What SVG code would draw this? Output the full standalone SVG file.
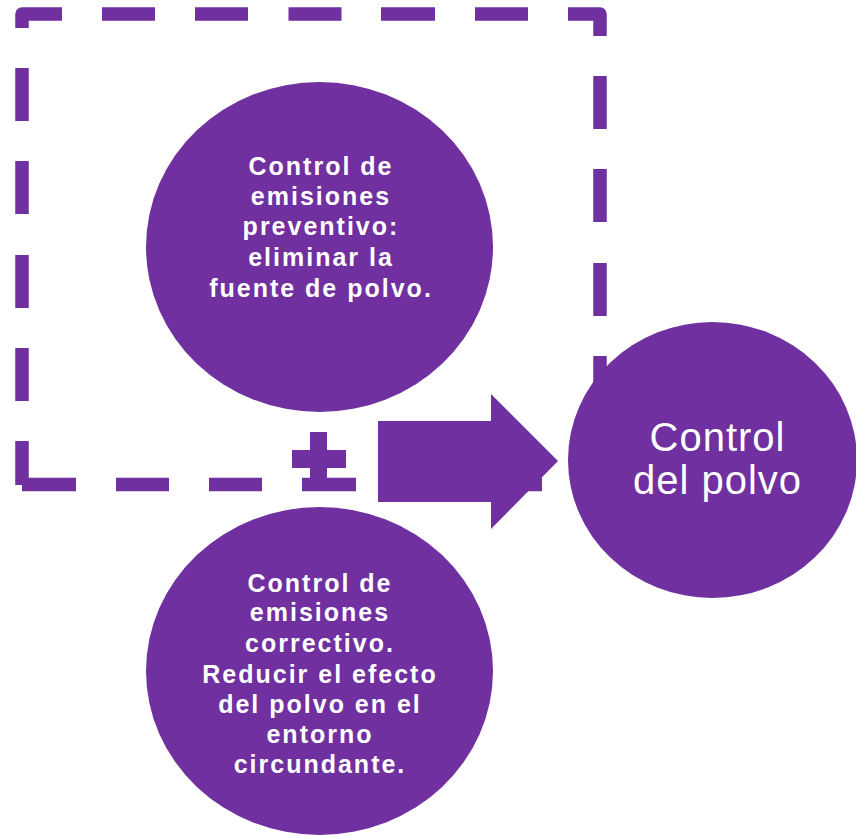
<svg xmlns="http://www.w3.org/2000/svg" width="856" height="836" viewBox="0 0 856 836">
  <style>
    .dash { fill: none; stroke: #7030A0; stroke-width: 13.5; stroke-linecap: butt; stroke-linejoin: round; }
    .shape { fill: #7030A0; }
    .small { font-family: "Liberation Sans", Arial, sans-serif; font-weight: bold; font-size: 25px; fill: #FFFFFF; text-anchor: middle; letter-spacing: 2px; }
    .big { font-family: "Liberation Sans", Arial, sans-serif; font-size: 40px; fill: #FFFFFF; text-anchor: middle; letter-spacing: 1px; }
  </style>
  <rect width="856" height="836" fill="#FFFFFF"/>
  <g id="connectors">
    <g id="dashed-frame">
      <path class="dash" d="M22,28 L22,14 L62,14"/>
      <path class="dash" d="M102,14 H155 M195,14 H248 M288.5,14 H341.5 M381,14 H435 M475,14 H528"/>
      <path class="dash" d="M568,14 L600,14 L600,36"/>
      <path class="dash" d="M600,76 V129 M600,169 V222 M600,263 V316 M600,356 V409"/>
      <path class="dash" d="M22,68 V121 M22,161 V214 M22,255 V308 M22,348 V401 M22,441 V485"/>
      <path class="dash" d="M22,484.5 H76 M116,484.5 H169 M209,484.5 H262 M302,484.5 H356 M395,484.5 H449 M489,484.5 H542"/>
    </g>
    <path id="plus" class="shape" d="M310,432 H327 V450 H346 V468 H327 V480 H310 V468 H292 V450 H310 Z"/>
    <path id="arrow" class="shape" d="M378,421 H491 V394 L558,461 L491,529 V502 H378 Z"/>
  </g>
  <g id="node-preventivo">
    <ellipse class="shape" cx="319.5" cy="247" rx="173.5" ry="165"/>
    <text class="small" x="321" y="175">Control de</text>
    <text class="small" x="321" y="205">emisiones</text>
    <text class="small" x="321" y="235">preventivo:</text>
    <text class="small" x="321" y="266">eliminar la</text>
    <text class="small" x="321" y="297">fuente de polvo.</text>
  </g>
  <g id="node-correctivo">
    <ellipse class="shape" cx="319.5" cy="671" rx="173.5" ry="164"/>
    <text class="small" x="320" y="592">Control de</text>
    <text class="small" x="320" y="621">emisiones</text>
    <text class="small" x="320" y="652">correctivo.</text>
    <text class="small" x="320" y="683">Reducir el efecto</text>
    <text class="small" x="320" y="713">del polvo en el</text>
    <text class="small" x="320" y="743">entorno</text>
    <text class="small" x="320" y="773">circundante.</text>
  </g>
  <g id="node-control">
    <ellipse class="shape" cx="712.5" cy="460" rx="144.5" ry="138"/>
    <text class="big" x="717.5" y="451">Control</text>
    <text class="big" x="717.5" y="494">del polvo</text>
  </g>
</svg>
